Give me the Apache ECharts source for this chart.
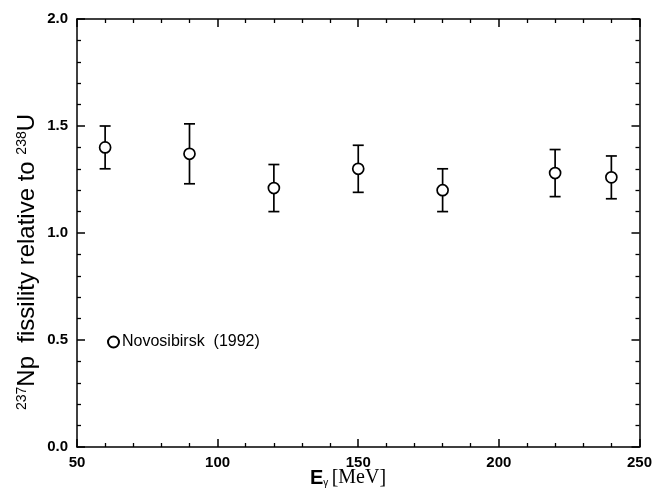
<!DOCTYPE html>
<html>
<head>
<meta charset="utf-8">
<script src="https://cdn.jsdelivr.net/npm/echarts@6/dist/echarts.min.js"></script>
<style>
  html, body { margin: 0; padding: 0; background: #fff; }
  #chart { width: 655px; height: 492px; }
</style>
</head>
<body>
<div id="chart"></div>
<script>
  // photon energy (MeV) and ratio 237Np / 238U
  var energy = [60, 90, 120, 150, 180, 220, 240];
  var ratio = [1.40, 1.37, 1.21, 1.30, 1.20, 1.28, 1.26];
  var errLow = [1.30, 1.23, 1.10, 1.19, 1.10, 1.17, 1.16];
  var errHigh = [1.50, 1.51, 1.32, 1.41, 1.30, 1.39, 1.36];
  var seriesName = 'Novosibirsk  (1992)';

  var font = '"Liberation Sans", Arial, Helvetica, sans-serif';
  var serif = '"Liberation Serif", "Times New Roman", serif';

  var points = energy.map(function (e, i) { return [e, ratio[i]]; });
  var bars = energy.map(function (e, i) { return [e, errLow[i], errHigh[i]]; });

  var myChart = echarts.init(document.getElementById('chart'));

  // 误差棒
  function renderErr(params, api) {
    var lo = api.coord([api.value(0), api.value(1)]);
    var hi = api.coord([api.value(0), api.value(2)]);
    var w = 5.5;
    var st = { stroke: '#000', lineWidth: 1.7 };
    return {
      type: 'group',
      children: [
        { type: 'line', shape: { x1: lo[0], y1: lo[1], x2: hi[0], y2: hi[1] }, style: st },
        { type: 'line', shape: { x1: lo[0] - w, y1: lo[1], x2: lo[0] + w, y2: lo[1] }, style: st },
        { type: 'line', shape: { x1: hi[0] - w, y1: hi[1], x2: hi[0] + w, y2: hi[1] }, style: st }
      ]
    };
  }

  var axisLine = { show: true, onZero: false, lineStyle: { color: '#000', width: 1.5 } };
  var tick = { show: true, inside: true, length: 8, lineStyle: { color: '#000', width: 1.5 } };
  var minor = { show: true, splitNumber: 5, length: 4, lineStyle: { color: '#000', width: 1.3 } };

  var option = {
    animation: false,
    backgroundColor: '#fff',
    grid: { left: 77, right: 14, top: 19, bottom: 45 },
    legend: {
      left: 102, top: 329,
      itemWidth: 11, itemHeight: 11, itemGap: 4,
      icon: 'circle',
      data: [seriesName],
      textStyle: { fontFamily: font, fontSize: 16, color: '#000', padding: [0, 0, 0, -2] }
    },
    graphic: [{
      type: 'text',
      x: 27, y: 262,
      rotation: Math.PI / 2,
      style: {
        text: '{s|237}{n|Np  fissility relative to }{s|238}{n|U}',
        align: 'center', verticalAlign: 'middle',
        rich: {
          s: { fontFamily: font, fontSize: 14, fill: '#000', verticalAlign: 'top', padding: [0, 0, 10, 0] },
          n: { fontFamily: font, fontSize: 24, fill: '#000' }
        }
      }
    }, {
      type: 'text',
      x: 310, y: 478,
      style: {
        text: '{e|E}{g|γ} {u|[MeV]}',
        align: 'left', verticalAlign: 'middle',
        rich: {
          e: { fontFamily: font, fontWeight: 'bold', fontSize: 20, fill: '#000' },
          g: { fontFamily: font, fontSize: 10, fill: '#000', verticalAlign: 'bottom', padding: [9, 0, 0, 0] },
          u: { fontFamily: serif, fontSize: 20, fill: '#000' }
        }
      }
    }],
    xAxis: [{
      type: 'value', min: 50, max: 250, interval: 50,
      axisLine: axisLine, axisTick: tick, minorTick: minor, splitLine: { show: false },
      axisLabel: { color: '#000', fontFamily: font, fontWeight: 'bold', fontSize: 15, margin: 8 }
    }, {
      type: 'value', min: 50, max: 250, interval: 50, position: 'top',
      axisLine: axisLine, axisTick: tick, minorTick: minor, splitLine: { show: false },
      axisLabel: { show: false }
    }],
    yAxis: [{
      type: 'value', min: 0, max: 2, interval: 0.5,
      axisLine: axisLine, axisTick: tick, minorTick: minor, splitLine: { show: false },
      axisLabel: {
        color: '#000', fontFamily: font, fontWeight: 'bold', fontSize: 15, margin: 9,
        formatter: function (v) { return v.toFixed(1); }
      }
    }, {
      type: 'value', min: 0, max: 2, interval: 0.5, position: 'right',
      axisLine: axisLine, axisTick: tick, minorTick: minor, splitLine: { show: false },
      axisLabel: { show: false }
    }],
    series: [{
      type: 'custom',
      renderItem: renderErr,
      data: bars,
      z: 2,
      silent: true
    }, {
      name: seriesName,
      type: 'scatter',
      data: points,
      symbol: 'circle',
      symbolSize: 11,
      itemStyle: { color: '#fff', borderColor: '#000', borderWidth: 1.7, opacity: 1 },
      z: 3
    }]
  };

  myChart.setOption(option);
</script>
</body>
</html>
